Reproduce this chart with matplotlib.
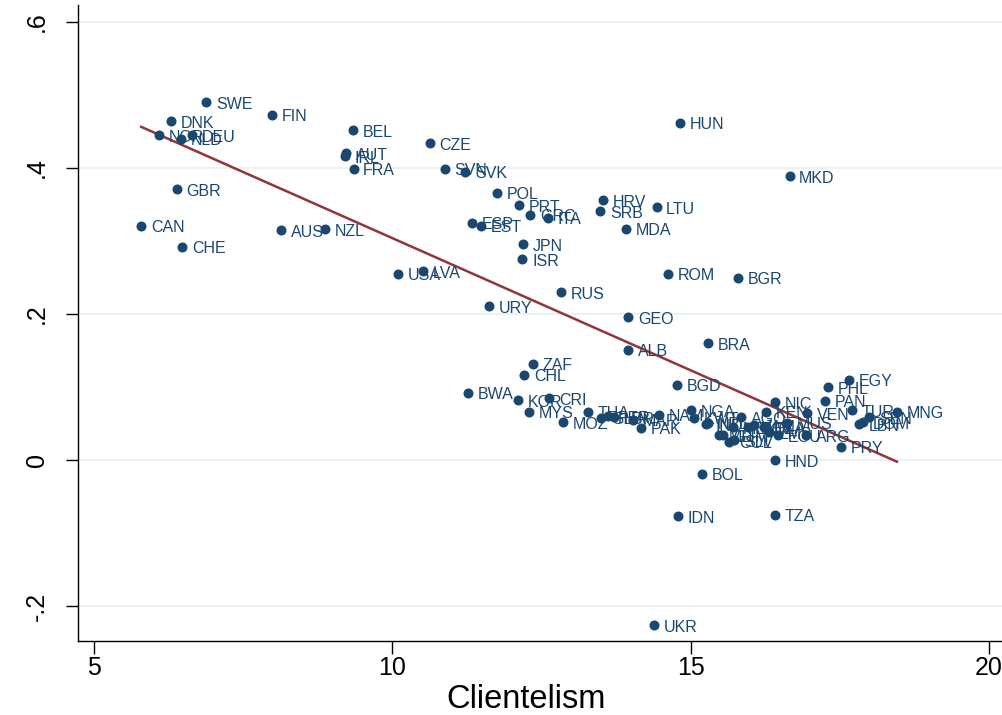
'''
Scatter of the outcome against clientelism, with country labels and a linear fit.
'''
import matplotlib
matplotlib.use('Agg')
import matplotlib.pyplot as plt

plt.rcParams['font.family'] = ['Liberation Sans', 'DejaVu Sans']

#Country codes, clientelism score and outcome value
codes = ['SWE', 'FIN', 'DNK', 'NOR', 'DEU', 'NLD', 'GBR', 'CAN', 'CHE', 'AUS',
         'NZL', 'BEL', 'AUT', 'IRL', 'FRA', 'CZE', 'SVN', 'SVK', 'POL', 'PRT',
         'GRC', 'ITA', 'ESP', 'EST', 'JPN', 'ISR', 'USA', 'LVA', 'RUS', 'URY',
         'GEO', 'HRV', 'SRB', 'LTU', 'MDA', 'HUN', 'MKD', 'ROM', 'BGR', 'BRA',
         'ALB', 'ZAF', 'CHL', 'BWA', 'KOR', 'CRI', 'MYS', 'MOZ', 'BGD',
         'THA', 'GHA', 'PER', 'LBR', 'MAR', 'PAK', 'NAM', 'NGA', 'KWT', 'IND',
         'NPL', 'MLI', 'GTM', 'COL', 'SLV', 'MEX', 'AGO', 'TUN', 'JAM', 'DZA',
         'ZMB', 'ECU', 'MUS', 'ARG', 'KEN', 'NIC', 'VEN', 'PAN', 'PHL', 'EGY',
         'TUR', 'SEN', 'DOM', 'LBN', 'MNG', 'PRY', 'HND', 'BOL', 'IDN', 'TZA',
         'UKR']

clientelism = [6.88, 7.99, 6.29, 6.09, 6.65, 6.46, 6.39, 5.79, 6.48, 8.13,
               8.87, 9.34, 9.23, 9.20, 9.35, 10.63, 10.88, 11.22, 11.76, 12.13,
               12.31, 12.61, 11.34, 11.49, 12.19, 12.18, 10.09, 10.51, 12.83, 11.62,
               13.96, 13.54, 13.49, 14.43, 13.92, 14.83, 16.66, 14.63, 15.79, 15.29,
               13.96, 12.36, 12.21, 11.27, 12.11, 12.63, 12.29, 12.87, 14.78,
               13.28, 13.50, 13.62, 13.72, 14.04, 14.17, 14.47, 15.01, 15.06, 15.26,
               15.30, 15.48, 15.55, 15.65, 15.73, 15.72, 15.85, 15.97, 16.07, 16.24,
               16.31, 16.47, 16.61, 16.94, 16.27, 16.42, 16.96, 17.25, 17.30, 17.65,
               17.70, 18.00, 17.90, 17.83, 18.46, 17.53, 16.42, 15.20, 14.79, 16.42,
               14.39]

outcome = [0.490, 0.473, 0.464, 0.445, 0.445, 0.440, 0.371, 0.321, 0.292, 0.315,
           0.316, 0.452, 0.420, 0.416, 0.399, 0.434, 0.399, 0.395, 0.366, 0.349,
           0.336, 0.332, 0.325, 0.321, 0.296, 0.275, 0.255, 0.259, 0.230, 0.211,
           0.196, 0.356, 0.341, 0.346, 0.317, 0.462, 0.389, 0.255, 0.250, 0.160,
           0.151, 0.132, 0.117, 0.092, 0.082, 0.085, 0.066, 0.052, 0.103,
           0.066, 0.058, 0.060, 0.059, 0.055, 0.044, 0.062, 0.068, 0.058, 0.049,
           0.051, 0.034, 0.034, 0.025, 0.027, 0.045, 0.059, 0.045, 0.048, 0.045,
           0.038, 0.034, 0.051, 0.034, 0.066, 0.079, 0.064, 0.081, 0.100, 0.110,
           0.068, 0.059, 0.052, 0.049, 0.066, 0.018, 0.000, -0.019, -0.077, -0.075,
           -0.226]

#Linear fit
fit_intercept = 0.666
fit_slope = -0.0362

x_ticks = [5, 10, 15, 20]
y_ticks = [-0.2, 0, 0.2, 0.4, 0.6]
y_tick_labels = ['-.2', '0', '.2', '.4', '.6']

navy = '#1a476f'
maroon = '#90353b'

fig = plt.figure(figsize=(10.03, 7.15), dpi=100)
ax = fig.add_axes([0.0778, 0.1035, 0.922, 0.8895])

ax.scatter(clientelism, outcome, s=52, color=navy, zorder=3, linewidths=0)
for code, cx, cy in zip(codes, clientelism, outcome):
    ax.annotate(code, (cx, cy), xytext=(7, -1.5), textcoords='offset points',
                va='center', ha='left', fontsize=11.5, color=navy, zorder=4)

fit_x = [min(clientelism), max(clientelism)]
fit_y = [fit_intercept + fit_slope * v for v in fit_x]
ax.plot(fit_x, fit_y, color=maroon, linewidth=1.8, zorder=2)

ax.set_xlim(4.731, 20.236)
ax.set_ylim(-0.2479, 0.6233)
ax.set_xticks(x_ticks)
ax.set_yticks(y_ticks)
ax.set_yticklabels(y_tick_labels, rotation=90, va='center')
ax.tick_params(axis='both', labelsize=18, length=9, width=1, color='black')
ax.tick_params(axis='x', pad=2)
ax.tick_params(axis='y', pad=12)
ax.set_xlabel('Clientelism', fontsize=23.5)
ax.xaxis.set_label_coords(0.484, -0.068)

ax.grid(axis='y', color='#eaf2f3', linewidth=1.5, zorder=0)
ax.set_axisbelow(True)
for side in ['top', 'right']:
    ax.spines[side].set_visible(False)
for side in ['left', 'bottom']:
    ax.spines[side].set_linewidth(1)

plt.savefig('out.png', dpi=100)
plt.close()
